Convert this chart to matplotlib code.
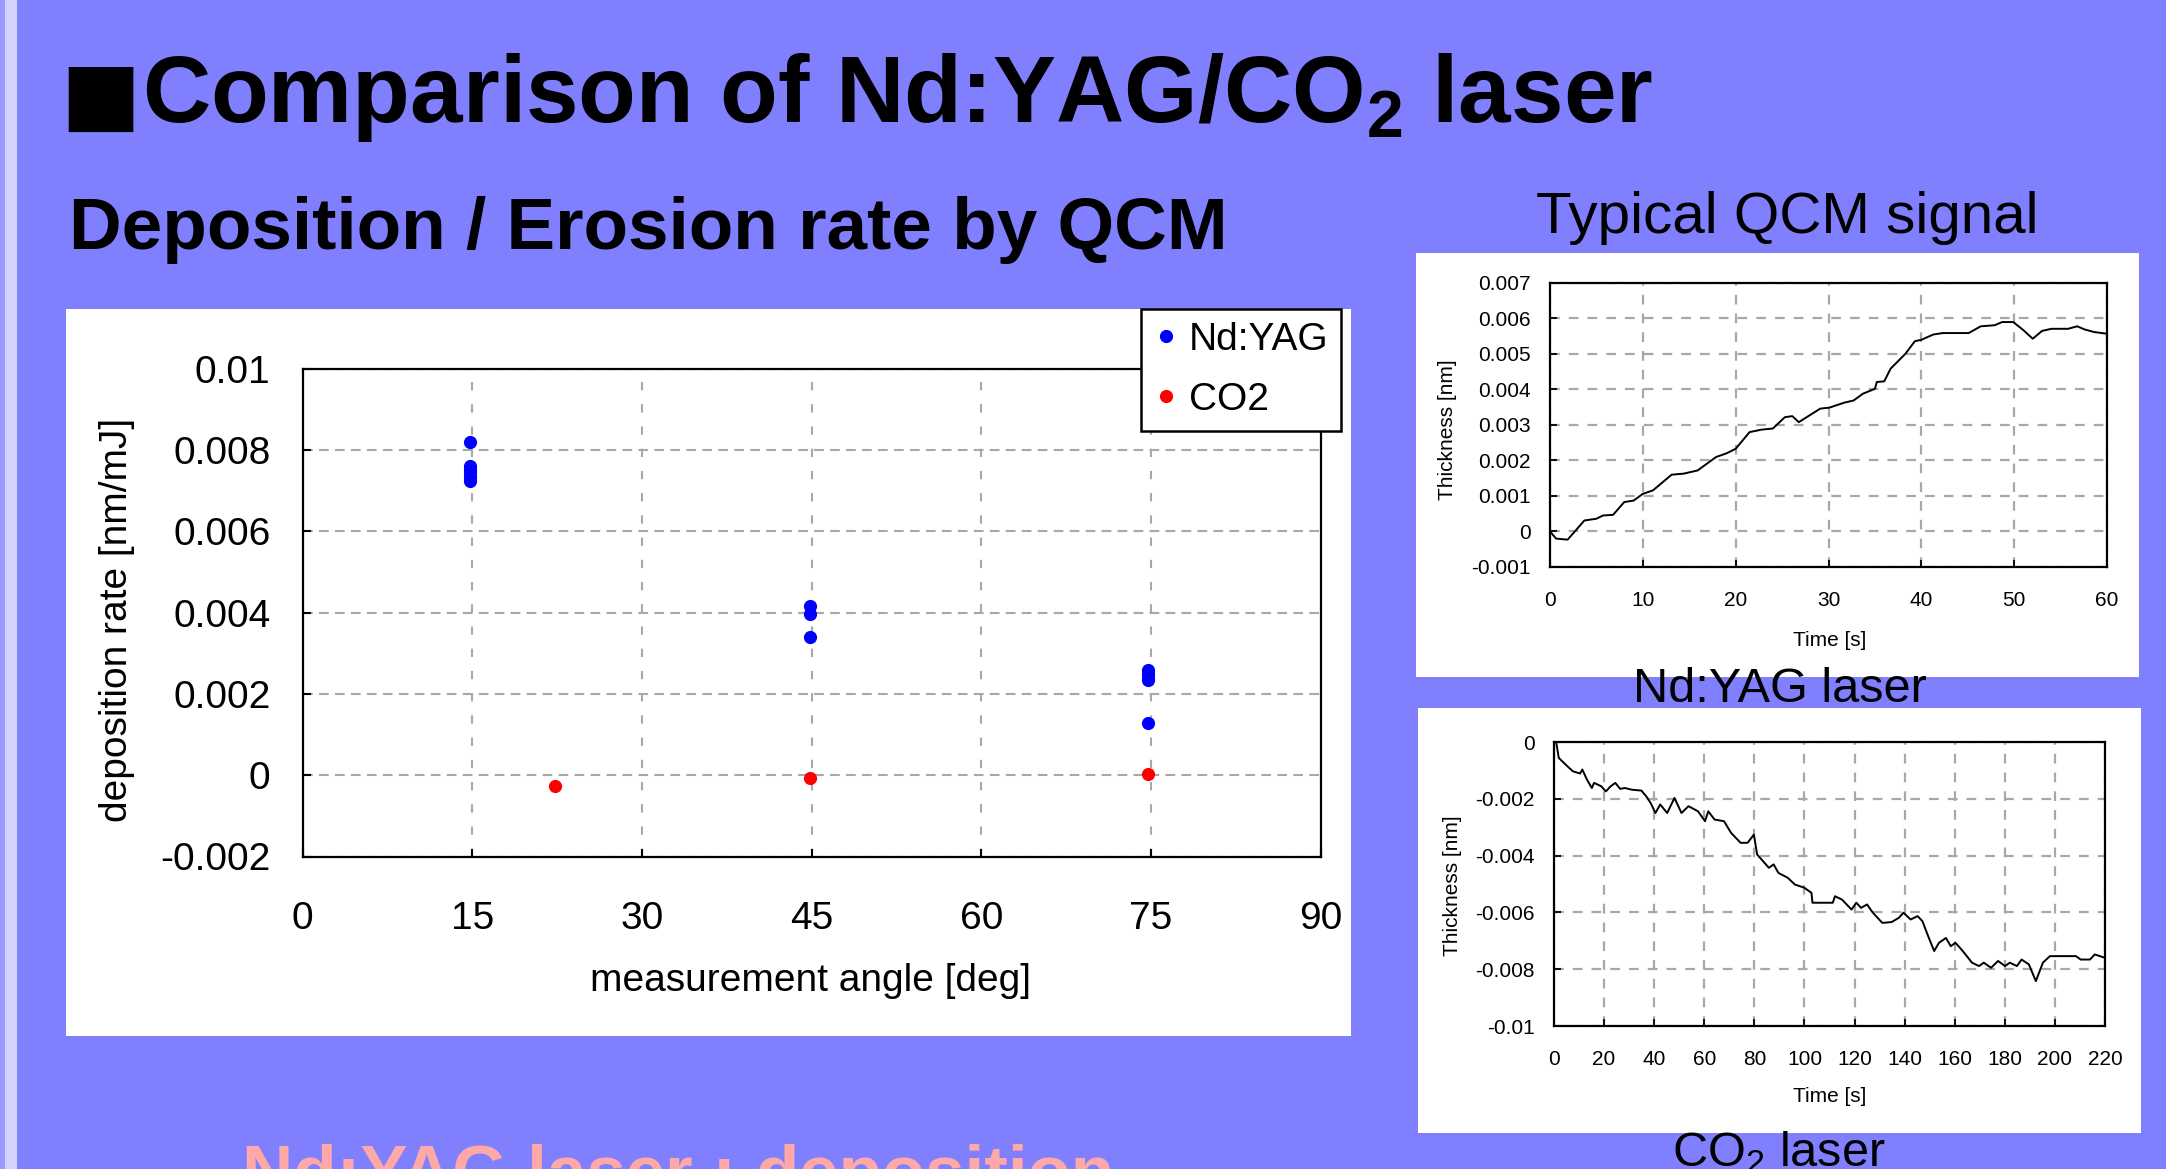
import matplotlib
matplotlib.use('Agg')
import matplotlib.pyplot as plt
from matplotlib.patches import Rectangle

W, H = 2166, 1169
BG = '#8080FF'
FONT = 'Liberation Sans'

plt.rcParams['lines.scale_dashes'] = False
plt.rcParams['mathtext.fontset'] = 'custom'
plt.rcParams['mathtext.rm'] = 'Liberation Sans'
plt.rcParams['mathtext.bf'] = 'Liberation Sans:bold'
plt.rcParams['mathtext.it'] = 'Liberation Sans:italic'
plt.rcParams['font.family'] = [FONT, 'DejaVu Sans']

# ---------------- data ----------------
yag_angle = [14.8, 14.8, 14.8, 14.8, 14.8, 14.8,
             44.9, 44.9, 44.9,
             74.7, 74.7, 74.7, 74.7, 74.7]
yag_rate = [0.0082, 0.00762, 0.00752, 0.00743, 0.00734, 0.00725,
            0.00417, 0.00397, 0.0034,
            0.00258, 0.0025, 0.0024, 0.00234, 0.00128]
co2_angle = [22.3, 44.9, 74.7]
co2_rate = [-0.00026, -0.00008, 0.00002]

main_xticks = [0, 15, 30, 45, 60, 75, 90]
main_yticks = [-0.002, 0, 0.002, 0.004, 0.006, 0.008, 0.01]
main_ylabels = ['-0.002', '0', '0.002', '0.004', '0.006', '0.008', '0.01']

yag_t = [0, 0.66, 1.9, 3.7, 5, 5.7, 6.8, 8, 9, 10, 11.1, 13.1, 14.4, 15.9, 17.9,
         19, 20, 21.5, 22.8, 24, 25.3, 26.1, 26.8, 29.1, 30.1, 31.7, 32.7, 33.7,
         35, 35.2, 36, 36.7, 38.3, 39.3, 40, 41.3, 42.3, 45.1, 46.4, 47.9, 48.7,
         49.9, 51, 52, 53, 54, 55.8, 56.8, 57.6, 58.6, 60]
yag_thk = [0, -0.0002, -0.00023, 0.00031, 0.00036, 0.00045, 0.00047, 0.00083,
           0.00087, 0.00106, 0.00116, 0.0016, 0.00163, 0.00172, 0.0021, 0.0022,
           0.00233, 0.0028, 0.00287, 0.0029, 0.00322, 0.00325, 0.00308, 0.00346,
           0.00349, 0.00363, 0.00369, 0.00388, 0.00402, 0.00421, 0.00423, 0.00459,
           0.00501, 0.00536, 0.0054, 0.00555, 0.00559, 0.00559, 0.00578, 0.00581,
           0.0059, 0.0059, 0.00567, 0.00543, 0.00565, 0.00571, 0.00571, 0.00578,
           0.00569, 0.00562, 0.00557]
yag_xticks = [0, 10, 20, 30, 40, 50, 60]
yag_yticks = [-0.001, 0, 0.001, 0.002, 0.003, 0.004, 0.005, 0.006, 0.007]
yag_ylabels = ['-0.001', '0', '0.001', '0.002', '0.003', '0.004', '0.005', '0.006', '0.007']

co2_t = [0.9, 1.9, 4.7, 7.5, 10.4, 11.3, 13.2, 15.1, 16, 18.9, 20.7, 22.6, 24.5,
         26.4, 28.3, 31.1, 34.9, 36.8, 38.6, 40.5, 42.4, 45.2, 48.1, 50.9, 53.7,
         57.5, 60.3, 61.6, 64.1, 67.9, 70.7, 74.5, 77.3, 79.8, 81.1, 85.8, 87.7,
         89.6, 93.3, 96.2, 99.9, 102.8, 103.2, 111.3, 112.2, 115.0, 118.8, 120.7,
         122.6, 125, 127.3, 131.1, 134.8, 137.7, 139.5, 142.4, 145.2, 147.1,
         149.9, 151.8, 153.7, 156.5, 158.4, 160.3, 163.2, 166.9, 169.7, 171.6,
         174.5, 177.3, 180.1, 182, 184.8, 186.7, 189.6, 192.4, 195.2, 198, 208.4,
         210.3, 214, 215.9, 220]
co2_thk = [-0.00002, -0.00056, -0.0008, -0.00103, -0.00111, -0.00097, -0.00133,
           -0.00162, -0.00144, -0.00156, -0.00174, -0.00156, -0.00144, -0.00165,
           -0.00162, -0.00168, -0.00171, -0.00191, -0.00215, -0.0025, -0.0022,
           -0.0025, -0.00197, -0.0025, -0.00226, -0.00244, -0.00279, -0.00244,
           -0.00273, -0.00279, -0.0032, -0.00355, -0.00355, -0.00326, -0.00396,
           -0.00443, -0.00431, -0.00461, -0.00478, -0.00502, -0.00513, -0.00531,
           -0.00566, -0.00566, -0.00543, -0.00555, -0.0059, -0.00566, -0.00584,
           -0.00572, -0.00601, -0.00637, -0.00634, -0.00619, -0.00601, -0.00625,
           -0.00613, -0.00631, -0.00695, -0.00736, -0.00707, -0.0069, -0.00719,
           -0.00707, -0.00736, -0.00777, -0.00789, -0.00777, -0.00795, -0.00771,
           -0.00789, -0.00777, -0.00789, -0.00766, -0.00783, -0.00842, -0.00777,
           -0.00754, -0.00754, -0.00766, -0.00766, -0.00748, -0.0076]
co2_xticks = list(range(0, 221, 20))
co2_yticks = [-0.01, -0.008, -0.006, -0.004, -0.002, 0]
co2_ylabels = ['-0.01', '-0.008', '-0.006', '-0.004', '-0.002', '0']

# ---------------- helpers ----------------
def fx(x):
    return x / W

def fy(y):
    return 1 - y / H

def axrect(l, t, r, b):
    return [l / W, 1 - b / H, (r - l) / W, (b - t) / H]

def box(fig, l, t, r, b, color='white'):
    fig.patches.append(Rectangle((l / W, 1 - b / H), (r - l) / W, (b - t) / H,
                                 transform=fig.transFigure, facecolor=color,
                                 edgecolor='none', zorder=-5))

fig = plt.figure(figsize=(W / 100, H / 100), dpi=100, facecolor=BG)

# left light stripe
fig.patches.append(Rectangle((0, 0), 5 / W, 1, transform=fig.transFigure,
                             facecolor='#9A9AFF', edgecolor='none', zorder=-5))
fig.patches.append(Rectangle((5 / W, 0), 12 / W, 1, transform=fig.transFigure,
                             facecolor='#D2D2FF', edgecolor='none', zorder=-5))

# white panels
box(fig, 66, 309, 1351, 1036)
box(fig, 1416, 253, 2139, 677)
box(fig, 1418, 708, 2141, 1133)

# ---------------- titles ----------------
fig.text(fx(60), fy(121.5), '■', family='DejaVu Sans', fontsize=61,
         va='baseline', ha='left', color='black')
fig.text(fx(142), fy(121.5), r'Comparison of Nd:YAG/CO$_\mathbf{2}$ laser',
         fontsize=68, fontweight='bold', va='baseline', ha='left', color='black')
fig.text(fx(69), fy(248.6), 'Deposition / Erosion rate by QCM',
         fontsize=52.5, fontweight='bold', va='baseline', ha='left', color='black')
fig.text(fx(1787), fy(233), 'Typical QCM signal', fontsize=42,
         va='baseline', ha='center', color='black')
fig.text(fx(1780), fy(702), 'Nd:YAG laser', fontsize=35,
         va='baseline', ha='center', color='black')
fig.text(fx(1779), fy(1166), r'CO$_2$ laser', fontsize=35,
         va='baseline', ha='center', color='black')
fig.text(fx(242), fy(1195), 'Nd:YAG laser : deposition', fontsize=51,
         fontweight='bold', va='baseline', ha='left', color='#FFA8A8')

# ---------------- main chart ----------------
ax = fig.add_axes(axrect(302.5, 368.8, 1320.6, 856.5))
ax.set_facecolor('white')
ax.set_axisbelow(True)
l1, = ax.plot(yag_angle, yag_rate, 'o', color='#0000FF', markersize=9.5,
              markeredgewidth=0, linestyle='none', label='Nd:YAG', zorder=3)
l2, = ax.plot(co2_angle, co2_rate, 'o', color='#FF0000', markersize=9.5,
              markeredgewidth=0, linestyle='none', label='CO2', zorder=3)
ax.set_xlim(0, 90)
ax.set_ylim(-0.002, 0.01)
ax.set_xticks(main_xticks)
ax.set_xticklabels([str(v) for v in main_xticks])
ax.set_yticks(main_yticks)
ax.set_yticklabels(main_ylabels)
ax.xaxis.grid(True, color='#A8A8A8', linewidth=1.5, linestyle=(0, (6, 10)))
ax.yaxis.grid(True, color='#A8A8A8', linewidth=1.5, linestyle=(0, (7, 4.5)))
for s in ax.spines.values():
    s.set_linewidth(1.6)
    s.set_color('black')
ax.tick_params(axis='both', direction='in', length=6, width=1.5,
               labelsize=28, colors='black')
ax.tick_params(axis='x', pad=32)
ax.tick_params(axis='y', pad=23)
for lab in ax.get_xticklabels() + ax.get_yticklabels():
    lab.set_family(FONT)

fig.text(fx(810), fy(981), 'measurement angle [deg]', fontsize=28,
         ha='center', va='center')
fig.text(fx(117), fy(620), 'deposition rate [nm/mJ]', fontsize=28,
         ha='center', va='center', rotation=90)

leg = ax.legend(handles=[l1, l2], loc='upper left',
                bbox_to_anchor=(1141 / W, 1 - 309 / H),
                bbox_transform=fig.transFigure, frameon=True, fancybox=False,
                edgecolor='black', framealpha=1, facecolor='white',
                prop={'family': FONT, 'size': 28}, handlelength=0.6,
                handletextpad=0.3, borderpad=0.33, labelspacing=0.62,
                borderaxespad=0)
leg.get_frame().set_linewidth(1.8)
leg.set_zorder(10)

# ---------------- small panels ----------------
def small_panel(rect, t, v, xt, yt, ylabs, xlim, ylim, ylab_x, ylab_y, xlab_y):
    a = fig.add_axes(rect)
    a.set_facecolor('white')
    a.set_axisbelow(True)
    a.plot(t, v, color='black', linewidth=1.4)
    a.set_xlim(*xlim)
    a.set_ylim(*ylim)
    a.set_xticks(xt)
    a.set_xticklabels([str(x) for x in xt])
    a.set_yticks(yt)
    a.set_yticklabels(ylabs)
    a.grid(True, color='#A8A8A8', linewidth=1.6, linestyle=(0, (7, 6.5)))
    for s in a.spines.values():
        s.set_linewidth(1.6)
        s.set_color('black')
    a.tick_params(axis='both', direction='in', length=5, width=1.3,
                  labelsize=15, colors='black')
    a.tick_params(axis='x', pad=17)
    a.tick_params(axis='y', pad=14)
    fig.text(fx(ylab_x), fy(ylab_y), 'Thickness [nm]', fontsize=15,
             ha='center', va='center', rotation=90)
    fig.text(fx(1830), fy(xlab_y), 'Time [s]', fontsize=15,
             ha='center', va='center')
    return a

small_panel(axrect(1550, 283, 2107, 567), yag_t, yag_thk, yag_xticks,
            yag_yticks, yag_ylabels, (0, 60), (-0.001, 0.007), 1448, 430, 640)
small_panel(axrect(1554, 742, 2105, 1026), co2_t, co2_thk, co2_xticks,
            co2_yticks, co2_ylabels, (0, 220), (-0.01, 0), 1453, 886, 1097)

fig.savefig('out.png', dpi=100, facecolor=BG)
